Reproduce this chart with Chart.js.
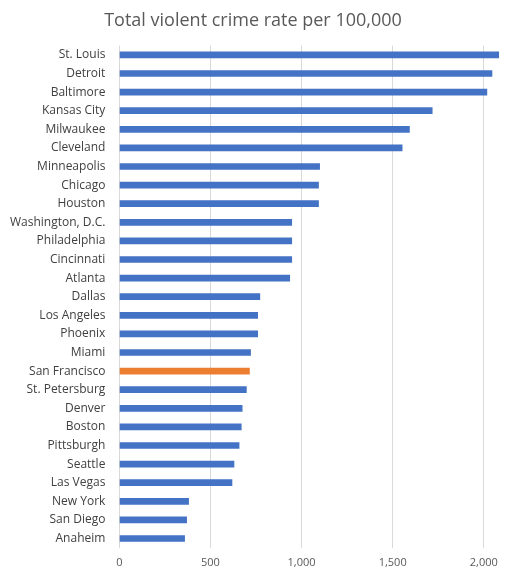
<!DOCTYPE html>
<html><head><meta charset="utf-8">
<script src="https://cdn.jsdelivr.net/npm/chart.js@4"></script>
<style>html,body{margin:0;padding:0;background:#fff}#w{width:526px;height:581px}</style>
</head><body><div id="w"><canvas id="c"></canvas></div>
<script>
const cities=["St. Louis","Detroit","Baltimore","Kansas City","Milwaukee","Cleveland","Minneapolis","Chicago","Houston","Washington, D.C.","Philadelphia","Cincinnati","Atlanta","Dallas","Los Angeles","Phoenix","Miami","San Francisco","St. Petersburg","Denver","Boston","Pittsburgh","Seattle","Las Vegas","New York","San Diego","Anaheim"];
const rates=[2082,2045,2017,1717,1592,1552,1099,1093,1093,946,946,946,935,771,759,759,720,714,697,674,669,657,629,618,380,369,358];
const highlight="San Francisco";
const xTicks=[0,500,1000,1500,2000];
new Chart(document.getElementById('c'),{type:'bar',
data:{labels:cities,datasets:[{data:rates,backgroundColor:cities.map(c=>c===highlight?'#ED7D31':'#4472C4'),barThickness:6}]},
options:{indexAxis:'y',responsive:true,maintainAspectRatio:false,animation:false,
layout:{padding:{left:4,right:24,top:6,bottom:4}},
plugins:{legend:{display:false},tooltip:{enabled:false},
title:{display:true,text:'Total violent crime rate per 100,000',color:'#595959',font:{family:'Open Sans',size:18,weight:'normal'},padding:{top:4,bottom:14}}},
scales:{x:{min:0,max:2100,afterBuildTicks:a=>{a.ticks=xTicks.map(v=>({value:v}))},
grid:{color:'#d9d9d9',drawTicks:false},border:{display:false},
ticks:{color:'#595959',font:{family:'Open Sans',size:11},padding:8}},
y:{grid:{display:false},border:{display:false},ticks:{color:'#404040',font:{family:'Open Sans',size:12},padding:6,autoSkip:false}}}}});
</script></body></html>
